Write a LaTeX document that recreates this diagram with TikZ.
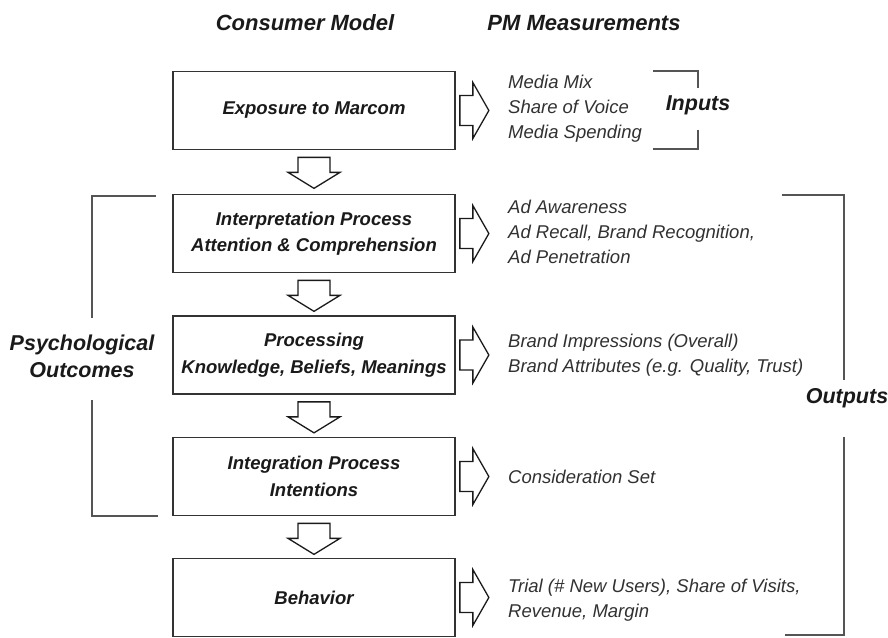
\documentclass[tikz,border=0pt]{standalone}
\usepackage{fontspec}
\setmainfont{Liberation Sans}
\usetikzlibrary{calc}

\definecolor{edge}{HTML}{333333}
\definecolor{brk}{HTML}{555555}
\definecolor{ink}{HTML}{1A1A1A}

\tikzset{
  stagebox/.style={draw=edge, line width=1.7pt, fill=white,
    minimum width=282pt, minimum height=78pt, inner sep=0pt,
    align=center, text=ink,
    font=\fontsize{18.5}{26.5}\selectfont\bfseries\itshape},
  measure/.style={anchor=west, align=left, inner sep=0pt, text=ink!90,
    font=\fontsize{18.5}{25}\selectfont\itshape},
  heading/.style={inner sep=0pt, text=ink,
    font=\fontsize{22}{26}\selectfont\bfseries\itshape},
  sidelabel/.style={inner sep=0pt, align=center, text=ink,
    font=\fontsize{21.5}{27}\selectfont\bfseries\itshape},
  blockarrow/.style={draw=ink, line width=1.3pt, fill=white, line join=miter},
  bracket/.style={draw=brk, line width=2pt}
}

\begin{document}
\begin{tikzpicture}[x=1pt, y=-1pt]
  \useasboundingbox (0,0) rectangle (888,637);

  % column headings
  \node[heading] (hcm) at (305,23) {Consumer Model};
  \node[heading] (hpm) at (584,23) {PM Measurements};

  % consumer model stages
  \node[stagebox] (b1) at (314,110.5) {Exposure to Marcom};
  \node[stagebox] (b2) at (314,233.5) {Interpretation Process\\Attention \& Comprehension};
  \node[stagebox] (b3) at (314,355)   {Processing\\Knowledge, Beliefs, Meanings};
  \node[stagebox] (b4) at (314,476.5) {Integration Process\\Intentions};
  \node[stagebox] (b5) at (314,597.5) {Behavior};

  % measurements for each stage
  \node[measure] (m1) at (508,108.5) {Media Mix\\Share of Voice\\Media Spending};
  \node[measure] (m2) at (508,232)   {Ad Awareness\\Ad Recall, Brand Recognition,\\Ad Penetration};
  \node[measure] (m3) at (508,355.5) {Brand Impressions (Overall)\\Brand Attributes (e.g. Quality, Trust)};
  \node[measure] (m4) at (508,477)   {Consideration Set};
  \node[measure] (m5) at (508,600.5) {Trial (\# New Users), Share of Visits,\\Revenue, Margin};

  % hollow arrows from one stage to the next
  \foreach \a/\b in {b1/b2, b2/b3, b3/b4, b4/b5}{
    \draw[blockarrow] ($(\a.south)+(-16,7)$) -- ++(32,0) -- ++(0,15)
      -- ++(10,0) -- ++(-26,16) -- ++(-26,-16) -- ++(10,0) -- cycle;
  }

  % hollow arrows from each stage to its measurements
  \foreach \a in {b1, b2, b3, b4, b5}{
    \draw[blockarrow] ($(\a.east)+(4,-15)$) -- ++(13,0) -- ++(0,-13)
      -- ++(16,28) -- ++(-16,28) -- ++(0,-13) -- ++(-13,0) -- cycle;
  }

  % Inputs bracket
  \node[sidelabel] (inp) at (698,105) {Inputs};
  \draw[bracket] (653,71) -- (698,71) -- (698,88);
  \draw[bracket] (698,130) -- (698,149) -- (653,149);

  % Outputs bracket
  \node[sidelabel] (outp) at (847,398) {Outputs};
  \draw[bracket] (782,195) -- (844,195) -- (844,380);
  \draw[bracket] (844,437) -- (844,635) -- (785,635);

  % Psychological Outcomes bracket
  \node[sidelabel] (psy) at (82,356) {Psychological\\Outcomes};
  \draw[bracket] (156,196) -- (92,196) -- (92,318);
  \draw[bracket] (92,400) -- (92,516) -- (158,516);
\end{tikzpicture}
\end{document}
